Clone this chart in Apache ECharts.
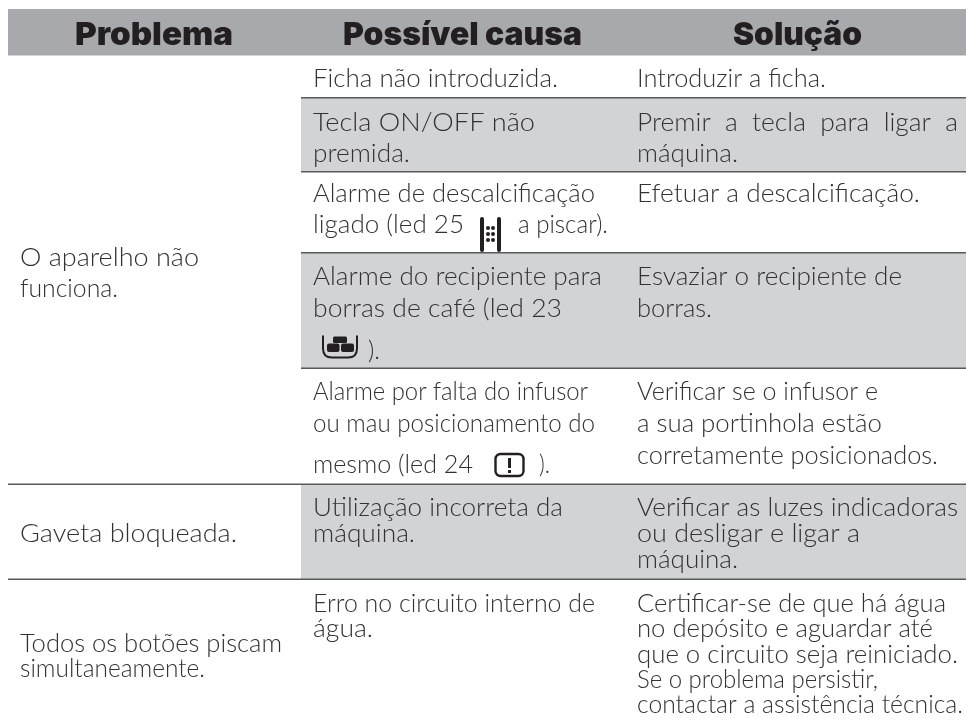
<!DOCTYPE html>
<html>
<head>
<meta charset="utf-8">
<style>
html, body { margin: 0; padding: 0; background: #fff; }
#main { width: 966px; height: 723px; }
</style>
<script src="https://cdn.jsdelivr.net/npm/echarts@6/dist/echarts.min.js"></script>
</head>
<body>
<div id="main"></div>
<script>
// table text
const headers = ['Problema', 'Possível causa', 'Solução'];
const problemLines = ['O aparelho não', 'funciona.', 'Gaveta bloqueada.', 'Todos os botões piscam', 'simultaneamente.'];
const causeLines = [
    'Ficha não introduzida.', 'Tecla ON/OFF não', 'premida.',
    'Alarme de descalcificação', 'ligado (led 25', 'a piscar).',
    'Alarme do recipiente para', 'borras de café (led 23', ').',
    'Alarme por falta do infusor', 'ou mau posicionamento do', 'mesmo (led 24', ').',
    'Utilização incorreta da', 'máquina.',
    'Erro no circuito interno de', 'água.'
];
const solutionLines = [
    'Introduzir a ficha.', 'Premir  a  tecla  para  ligar  a', 'máquina.',
    'Efetuar a descalcificação.',
    'Esvaziar o recipiente de', 'borras.',
    'Verificar se o infusor e', 'a sua portinhola estão', 'corretamente posicionados.',
    'Verificar as luzes indicadoras', 'ou desligar e ligar a', 'máquina.',
    'Certificar-se de que há água', 'no depósito e aguardar até', 'que o circuito seja reiniciado.',
    'Se o problema persistir,', 'contactar a assistência técnica.'
];

// layout, in page pixels: the hidden axes run 0-966 and 0-723
// each text position is [left, baseline, right]
const headerPos = [[75, 45, 233], [343, 45, 582], [733, 45, 862]];
const problemPos = [[20, 266, 199], [20, 297, 118], [20, 542, 237], [20, 652, 282], [20, 677, 205]];
const causePos = [
    [313, 87, 558], [313, 131, 535], [313, 162, 410],
    [313, 202, 595], [313, 233, 464], [518, 233, 608],
    [313, 285, 602], [313, 317, 562], [368, 359, 380],
    [313, 400, 588], [313, 432, 595], [313, 473, 473], [539, 473, 550],
    [313, 516, 563], [313, 542, 415],
    [313, 612, 595], [313, 637, 373]
];
const solutionPos = [
    [637, 87, 826], [637, 131, 958], [637, 162, 738],
    [637, 202, 920],
    [637, 285, 902], [637, 317, 712],
    [637, 400, 878], [637, 432, 882], [637, 464, 938],
    [637, 516, 958], [637, 542, 860], [637, 568, 738],
    [637, 612, 946], [637, 637, 933], [637, 663, 958], [637, 688, 878], [637, 713, 963]
];
const bands = [[8, 9, 966, 55.5, '#a7a9ac'], [301, 98, 966, 171, '#d1d3d4'], [301, 253, 966, 368, '#d1d3d4'], [301, 485, 966, 579, '#d1d3d4']];
const rules = [[301, 97.7], [301, 171.7], [301, 252.8], [301, 368.3], [8, 484.3], [8, 579.3]];
const iconPos = [[480, 217], [322, 335.5], [494.5, 453]];

const BODY_FONT = '300 25.5px Lato';
const HEAD_FONT = '900 32px Inter';
const INK = '#231f20';
const BODY_INK = '#333132';

const chart = echarts.init(document.getElementById('main'));
const measure = document.createElement('canvas').getContext('2d');

function renderBand(params, api) {
    const a = api.coord([api.value(0), api.value(1)]);
    const b = api.coord([api.value(2), api.value(3)]);
    return {
        type: 'rect',
        shape: { x: a[0], y: a[1], width: b[0] - a[0], height: b[1] - a[1] },
        style: { fill: bands[params.dataIndex][4] }
    };
}

function renderRule(params, api) {
    const a = api.coord([api.value(0), api.value(1)]);
    const b = api.coord([966, api.value(1)]);
    return {
        type: 'line',
        shape: { x1: a[0], y1: a[1], x2: b[0], y2: b[1] },
        style: { stroke: '#58595b', lineWidth: 1.6 }
    };
}

// zrender has no baseline mode for text elements, so shift by the font's middle.
// Each line is stretched a little to end where the original line ends.
function textRenderer(lines, font, fill, sink) {
    return function(params, api) {
        const p = api.coord([api.value(0), api.value(1) - sink]);
        const right = api.coord([api.value(2), 0])[0];
        const text = lines[params.dataIndex];
        measure.font = font;
        return {
            type: 'text',
            x: p[0],
            y: p[1],
            scaleX: (right - p[0]) / measure.measureText(text).width,
            style: { text: text, font: font, fill: fill, align: 'left', verticalAlign: 'middle' }
        };
    };
}

// led symbols, placed from their top left corner
function renderIcon(params, api) {
    const p = api.coord([api.value(0), api.value(1)]);
    const kind = params.dataIndex;
    const children = [];
    if (kind === 0) {
        // descaling: two bars with a 2x3 dot block
        children.push({ type: 'rect', shape: { x: 0, y: 0, width: 4, height: 35, r: 2 }, style: { fill: INK } });
        children.push({ type: 'rect', shape: { x: 17, y: 0, width: 4, height: 35, r: 2 }, style: { fill: INK } });
        [0, 1, 2].forEach(function(r) {
            [0, 1].forEach(function(c) {
                children.push({ type: 'circle', shape: { cx: 8 + c * 5, cy: 11 + r * 6, r: 2 }, style: { fill: INK } });
            });
        });
    } else if (kind === 1) {
        // grounds container
        children.push({ type: 'path', shape: { pathData: 'M1 0 V13 Q1 22 10 22 H26 Q35 22 35 13 V0' }, style: { fill: 'none', stroke: INK, lineWidth: 2 } });
        children.push({ type: 'rect', shape: { x: 11, y: 1, width: 14, height: 6.5, r: 1.5 }, style: { fill: INK } });
        children.push({ type: 'rect', shape: { x: 5, y: 8, width: 12.5, height: 8.5, r: 2 }, style: { fill: INK } });
        children.push({ type: 'rect', shape: { x: 19, y: 8, width: 13, height: 8.5, r: 2 }, style: { fill: INK } });
    } else {
        // alert box
        children.push({ type: 'rect', shape: { x: 1, y: 1, width: 28, height: 22, r: 5 }, style: { fill: 'none', stroke: INK, lineWidth: 2.4 } });
        children.push({ type: 'rect', shape: { x: 13.5, y: 5, width: 3, height: 10 }, style: { fill: INK } });
        children.push({ type: 'rect', shape: { x: 13.5, y: 17, width: 3, height: 3 }, style: { fill: INK } });
    }
    return { type: 'group', x: p[0], y: p[1], children: children };
}

function customSeries(renderItem, data) {
    return { type: 'custom', silent: true, animation: false, coordinateSystem: 'cartesian2d', clip: false, renderItem: renderItem, data: data };
}

chart.setOption({
    animation: false,
    backgroundColor: '#ffffff',
    tooltip: { show: false },
    grid: { left: 0, right: 0, top: 0, bottom: 0 },
    xAxis: { type: 'value', min: 0, max: 966, show: false },
    yAxis: { type: 'value', min: 0, max: 723, inverse: true, show: false },
    series: [
        customSeries(renderBand, bands.map(function(b) { return b.slice(0, 4); })),
        customSeries(renderRule, rules),
        customSeries(textRenderer(headers, HEAD_FONT, INK, 10), headerPos),
        customSeries(textRenderer(problemLines, BODY_FONT, BODY_INK, 8), problemPos),
        customSeries(textRenderer(causeLines, BODY_FONT, BODY_INK, 8), causePos),
        customSeries(textRenderer(solutionLines, BODY_FONT, BODY_INK, 8), solutionPos),
        customSeries(renderIcon, iconPos)
    ]
});
</script>
</body>
</html>
